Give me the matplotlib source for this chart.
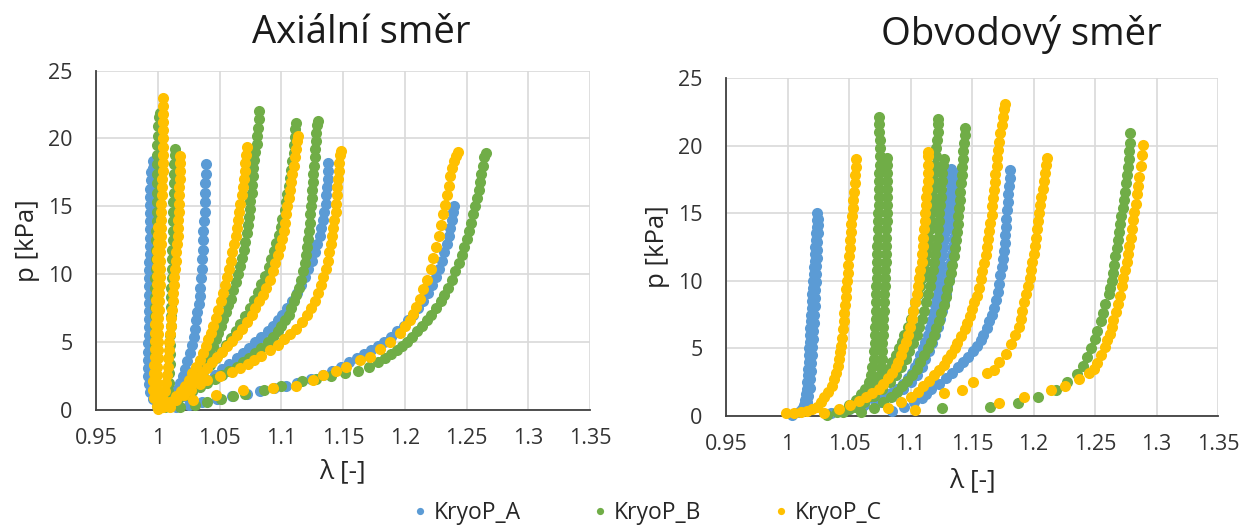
import matplotlib
matplotlib.use("Agg")
import matplotlib.pyplot as plt
from matplotlib.lines import Line2D

plt.rcParams['font.family'] = ['Open Sans', 'DejaVu Sans']

# ---------------- labels / ticks ----------------
titles = ["Axiální směr", "Obvodový směr"]
x_label = "λ [-]"
y_label = "p [kPa]"
series_names = ["KryoP_A", "KryoP_B", "KryoP_C"]
series_colors = ["#5B9BD5", "#70AD47", "#FFC000"]
x_ticks = [0.95, 1.0, 1.05, 1.1, 1.15, 1.2, 1.25, 1.3, 1.35]
x_tick_labels = ["0.95", "1", "1.05", "1.1", "1.15", "1.2", "1.25", "1.3", "1.35"]
y_ticks = [0, 5, 10, 15, 20, 25]
y_tick_labels = ["0", "5", "10", "15", "20", "25"]

# ================= Axiální směr =================
# KryoP_A
axA1a_lam = [0.999, 0.996, 0.994, 0.993, 0.9925, 0.9925, 0.9925, 0.9925, 0.9925, 0.993, 0.993, 0.993, 0.993, 0.993, 0.993, 0.993, 0.9932, 0.9932, 0.9932, 0.9935, 0.9935, 0.9935, 0.9935, 0.9938, 0.9938, 0.994, 0.994, 0.994, 0.9942, 0.9945]
axA1a_p = [0.3, 0.8, 1.3, 1.9, 2.5, 3.1, 3.7, 4.3, 4.9, 5.5, 6.1, 6.7, 7.3, 7.9, 8.5, 9.1, 9.7, 10.3, 10.9, 11.5, 12.1, 12.7, 13.3, 13.9, 14.5, 15.1, 15.7, 16.3, 16.9, 17.5]
axA1b_lam = [0.997, 0.9958, 0.9955, 0.9955, 0.9955, 0.9955, 0.9955, 0.9958, 0.9958, 0.9958, 0.996, 0.996, 0.996, 0.996, 0.996, 0.9962, 0.9962, 0.9962, 0.9962, 0.9962, 0.9962, 0.9965, 0.9965, 0.9965, 0.9965, 0.9965, 0.9965, 0.9965, 0.9965, 0.9965]
axA1b_p = [1.0, 1.6, 2.2, 2.8, 3.4, 4.0, 4.6, 5.2, 5.8, 6.4, 7.0, 7.6, 8.2, 8.8, 9.4, 10.0, 10.6, 11.2, 11.8, 12.4, 13.0, 13.6, 14.2, 14.8, 15.4, 16.0, 16.6, 17.2, 17.8, 18.3]
axA2_lam = [1.003, 1.008, 1.012, 1.015, 1.018, 1.0205, 1.022, 1.024, 1.026, 1.0275, 1.029, 1.030, 1.031, 1.032, 1.033, 1.034, 1.0345, 1.035, 1.0355, 1.036, 1.0365, 1.037, 1.037, 1.0375, 1.038, 1.038, 1.0385, 1.0385, 1.039, 1.039]
axA2_p = [0.2, 0.6, 1.0, 1.5, 2.0, 2.5, 3.0, 3.6, 4.2, 4.8, 5.4, 6.0, 6.6, 7.2, 7.8, 8.4, 9.0, 9.7, 10.4, 11.1, 11.8, 12.5, 13.2, 13.9, 14.6, 15.3, 16.0, 16.7, 17.4, 18.1]
axA3_lam = [1.008, 1.014, 1.021, 1.028, 1.034, 1.040, 1.046, 1.052, 1.058, 1.064, 1.069, 1.074, 1.079, 1.084, 1.089, 1.093, 1.097, 1.101, 1.105, 1.109, 1.113, 1.116, 1.119, 1.122, 1.1245, 1.127, 1.129, 1.131, 1.1325, 1.134, 1.135, 1.136, 1.1365, 1.137, 1.1375, 1.138, 1.138]
axA3_p = [0.3, 0.6, 1.0, 1.4, 1.8, 2.2, 2.6, 3.0, 3.4, 3.8, 4.2, 4.6, 5.0, 5.4, 5.8, 6.2, 6.6, 7.0, 7.5, 8.0, 8.6, 9.2, 9.8, 10.4, 11.0, 11.6, 12.2, 12.8, 13.4, 14.0, 14.6, 15.2, 15.8, 16.4, 17.0, 17.6, 18.2]
axA4_lam = [1.015, 1.025, 1.036, 1.048, 1.060, 1.072, 1.083, 1.094, 1.104, 1.113, 1.124, 1.134, 1.141, 1.148, 1.155, 1.161, 1.167, 1.173, 1.178, 1.183, 1.189, 1.194, 1.199, 1.203, 1.207, 1.211, 1.215, 1.219, 1.222, 1.225, 1.228, 1.230, 1.232, 1.234, 1.2355, 1.237, 1.238, 1.239, 1.2395]
axA4_p = [0.2, 0.4, 0.6, 0.8, 1.0, 1.2, 1.4, 1.6, 1.8, 2.0, 2.3, 2.6, 2.9, 3.2, 3.5, 3.8, 4.1, 4.4, 4.7, 5.0, 5.4, 5.8, 6.2, 6.6, 7.0, 7.5, 8.0, 8.6, 9.2, 9.8, 10.4, 11.0, 11.6, 12.2, 12.8, 13.4, 14.0, 14.6, 15.0]

# KryoP_B
axB1_lam = [1.001, 0.999, 0.998, 0.9975, 0.9975, 0.9975, 0.9975, 0.9975, 0.998, 0.998, 0.998, 0.998, 0.998, 0.998, 0.998, 0.9985, 0.9985, 0.9985, 0.9985, 0.9985, 0.999, 0.999, 0.999, 0.999, 0.999, 0.999, 0.9995, 0.9995, 0.9995, 1.000, 1.000, 1.001, 1.0015]
axB1_p = [0.3, 0.8, 1.4, 2.0, 2.7, 3.4, 4.1, 4.8, 5.5, 6.2, 6.9, 7.6, 8.3, 9.0, 9.7, 10.4, 11.1, 11.8, 12.5, 13.2, 13.9, 14.6, 15.3, 16.0, 16.7, 17.4, 18.1, 18.8, 19.5, 20.2, 20.9, 21.6, 21.9]
axB2_lam = [1.003, 1.006, 1.008, 1.009, 1.0095, 1.0098, 1.010, 1.010, 1.0102, 1.0104, 1.0106, 1.0108, 1.011, 1.011, 1.0112, 1.0114, 1.0116, 1.0118, 1.012, 1.012, 1.0122, 1.0124, 1.0126, 1.0128, 1.013, 1.0132, 1.0134, 1.0136, 1.0138]
axB2_p = [0.3, 0.8, 1.4, 2.0, 2.7, 3.4, 4.1, 4.8, 5.5, 6.2, 6.9, 7.6, 8.3, 9.0, 9.7, 10.4, 11.1, 11.8, 12.5, 13.2, 13.9, 14.6, 15.3, 16.0, 16.7, 17.4, 18.1, 18.8, 19.2]
axB3_lam = [1.006, 1.012, 1.017, 1.021, 1.025, 1.029, 1.033, 1.036, 1.039, 1.042, 1.045, 1.047, 1.049, 1.051, 1.053, 1.055, 1.057, 1.059, 1.061, 1.063, 1.065, 1.067, 1.068, 1.070, 1.071, 1.072, 1.073, 1.074, 1.075, 1.075, 1.076, 1.076, 1.077, 1.077, 1.078, 1.079, 1.080, 1.080, 1.081, 1.082, 1.082]
axB3_p = [0.2, 0.6, 1.0, 1.4, 1.8, 2.2, 2.7, 3.2, 3.7, 4.2, 4.7, 5.2, 5.7, 6.2, 6.7, 7.2, 7.7, 8.2, 8.8, 9.4, 10.0, 10.6, 11.2, 11.8, 12.4, 13.0, 13.6, 14.2, 14.8, 15.4, 16.0, 16.6, 17.2, 17.8, 18.4, 19.0, 19.6, 20.2, 20.8, 21.4, 22.0]
axB4_lam = [1.010, 1.015, 1.020, 1.024, 1.028, 1.032, 1.037, 1.042, 1.047, 1.051, 1.055, 1.059, 1.063, 1.067, 1.071, 1.075, 1.078, 1.081, 1.084, 1.087, 1.090, 1.092, 1.094, 1.096, 1.098, 1.100, 1.101, 1.103, 1.104, 1.105, 1.106, 1.107, 1.108, 1.109, 1.110, 1.110, 1.111, 1.1115, 1.112]
axB4_p = [0.3, 0.7, 1.1, 1.5, 1.9, 2.3, 2.8, 3.3, 3.8, 4.3, 4.8, 5.3, 5.8, 6.3, 6.9, 7.5, 8.1, 8.7, 9.3, 9.9, 10.5, 11.1, 11.7, 12.3, 12.9, 13.5, 14.1, 14.7, 15.3, 15.9, 16.5, 17.1, 17.7, 18.3, 18.9, 19.5, 20.1, 20.7, 21.1]
axB5_lam = [1.004, 1.010, 1.016, 1.022, 1.028, 1.034, 1.040, 1.046, 1.052, 1.058, 1.064, 1.069, 1.074, 1.079, 1.084, 1.089, 1.093, 1.097, 1.100, 1.103, 1.106, 1.108, 1.110, 1.112, 1.114, 1.116, 1.1175, 1.119, 1.120, 1.121, 1.122, 1.1225, 1.123, 1.1235, 1.124, 1.1245, 1.125, 1.1255, 1.126, 1.1265, 1.127, 1.1275, 1.128, 1.1285, 1.129, 1.1295]
axB5_p = [0.2, 0.5, 0.8, 1.1, 1.4, 1.7, 2.0, 2.3, 2.6, 2.9, 3.2, 3.5, 3.8, 4.2, 4.6, 5.0, 5.4, 5.8, 6.2, 6.6, 7.0, 7.5, 8.0, 8.5, 9.0, 9.6, 10.2, 10.8, 11.4, 12.0, 12.6, 13.2, 13.8, 14.4, 15.0, 15.6, 16.2, 16.8, 17.4, 18.0, 18.6, 19.2, 19.8, 20.4, 21.0, 21.3]
axB6_lam = [1.018, 1.030, 1.040, 1.051, 1.061, 1.071, 1.086, 1.100, 1.117, 1.128, 1.140, 1.152, 1.162, 1.171, 1.178, 1.184, 1.189, 1.194, 1.198, 1.202, 1.206, 1.210, 1.214, 1.218, 1.221, 1.225, 1.229, 1.232, 1.235, 1.238, 1.241, 1.244, 1.246, 1.248, 1.250, 1.252, 1.254, 1.2555, 1.257, 1.2585, 1.260, 1.261, 1.262, 1.263, 1.2645, 1.2655]
axB6_p = [0.2, 0.4, 0.6, 0.8, 1.0, 1.2, 1.5, 1.8, 2.1, 2.3, 2.5, 2.7, 2.9, 3.2, 3.5, 3.8, 4.1, 4.4, 4.7, 5.0, 5.4, 5.8, 6.2, 6.6, 7.0, 7.5, 8.0, 8.5, 9.0, 9.6, 10.2, 10.8, 11.4, 12.0, 12.6, 13.2, 13.8, 14.4, 15.0, 15.6, 16.2, 16.8, 17.4, 18.0, 18.6, 18.9]

# KryoP_C
axC1a_lam = [1.000, 1.000, 0.999, 0.999, 0.999, 0.9995, 0.9995, 1.000, 1.000, 1.000, 1.000, 1.0005, 1.0005, 1.001, 1.001, 1.001, 1.0015, 1.0015, 1.002, 1.002, 1.002, 1.0025, 1.0025, 1.003, 1.003, 1.003, 1.003, 1.0035, 1.0035, 1.0035, 1.004, 1.004, 1.004, 1.004, 1.004, 1.004, 1.004, 1.0042, 1.0042, 1.0042]
axC1a_p = [0.1, 0.5, 1.0, 1.5, 2.0, 2.6, 3.2, 3.8, 4.4, 5.0, 5.6, 6.2, 6.8, 7.4, 8.0, 8.6, 9.2, 9.8, 10.4, 11.0, 11.6, 12.2, 12.8, 13.4, 14.0, 14.6, 15.2, 15.8, 16.4, 17.0, 17.6, 18.2, 18.8, 19.4, 20.0, 20.6, 21.2, 21.8, 22.4, 23.0]
axC1b_lam = [0.999, 0.997, 0.9965, 0.9965, 0.997, 0.997, 0.9975, 0.9975, 0.998, 0.998, 0.998, 0.9985, 0.9985, 0.9985, 0.999, 0.999, 0.999, 0.9995, 0.9995, 0.9995, 1.000, 1.000, 1.0005]
axC1b_p = [0.3, 0.9, 1.5, 2.1, 2.7, 3.3, 3.9, 4.5, 5.1, 5.7, 6.3, 6.9, 7.5, 8.1, 8.7, 9.3, 9.9, 10.5, 11.1, 11.7, 12.3, 12.9, 13.5]
axC2_lam = [1.002, 1.004, 1.006, 1.007, 1.0075, 1.008, 1.0085, 1.009, 1.0095, 1.010, 1.0105, 1.011, 1.0115, 1.012, 1.0125, 1.013, 1.0135, 1.014, 1.0145, 1.015, 1.0155, 1.016, 1.0163, 1.0166, 1.0169, 1.0172, 1.0174, 1.0176, 1.0178, 1.018, 1.018, 1.018]
axC2_p = [0.3, 0.8, 1.4, 2.0, 2.6, 3.2, 3.8, 4.4, 5.0, 5.6, 6.2, 6.8, 7.4, 8.0, 8.6, 9.2, 9.8, 10.4, 11.0, 11.6, 12.2, 12.8, 13.4, 14.0, 14.6, 15.2, 15.8, 16.4, 17.0, 17.6, 18.2, 18.7]
axC3_lam = [1.004, 1.010, 1.015, 1.019, 1.022, 1.025, 1.028, 1.031, 1.034, 1.037, 1.039, 1.041, 1.043, 1.045, 1.047, 1.049, 1.051, 1.053, 1.0545, 1.056, 1.0575, 1.059, 1.060, 1.0615, 1.063, 1.064, 1.065, 1.066, 1.067, 1.068, 1.069, 1.070, 1.0705, 1.071, 1.0715, 1.072]
axC3_p = [0.2, 0.6, 1.0, 1.4, 1.8, 2.2, 2.7, 3.2, 3.7, 4.2, 4.7, 5.2, 5.7, 6.2, 6.8, 7.4, 8.0, 8.6, 9.2, 9.8, 10.4, 11.0, 11.6, 12.2, 12.8, 13.4, 14.0, 14.6, 15.2, 15.8, 16.4, 17.0, 17.6, 18.2, 18.8, 19.4]
axC4_lam = [1.007, 1.013, 1.018, 1.023, 1.028, 1.032, 1.036, 1.040, 1.044, 1.048, 1.052, 1.056, 1.060, 1.064, 1.068, 1.072, 1.076, 1.079, 1.082, 1.085, 1.088, 1.091, 1.093, 1.095, 1.097, 1.099, 1.1005, 1.102, 1.103, 1.104, 1.105, 1.106, 1.107, 1.108, 1.109, 1.110, 1.111, 1.112, 1.113, 1.1135]
axC4_p = [0.3, 0.7, 1.1, 1.5, 1.9, 2.3, 2.7, 3.1, 3.5, 3.9, 4.3, 4.7, 5.1, 5.5, 6.0, 6.5, 7.0, 7.5, 8.0, 8.5, 9.0, 9.6, 10.2, 10.8, 11.4, 12.0, 12.6, 13.2, 13.8, 14.4, 15.0, 15.6, 16.2, 16.8, 17.4, 18.0, 18.6, 19.2, 19.8, 20.2]
axC5_lam = [1.008, 1.015, 1.021, 1.027, 1.034, 1.040, 1.050, 1.060, 1.067, 1.073, 1.078, 1.084, 1.091, 1.097, 1.102, 1.107, 1.112, 1.117, 1.121, 1.124, 1.127, 1.130, 1.132, 1.134, 1.136, 1.1375, 1.139, 1.140, 1.141, 1.142, 1.143, 1.144, 1.1445, 1.145, 1.1455, 1.146, 1.1465, 1.147, 1.1475, 1.148]
axC5_p = [0.3, 0.7, 1.1, 1.5, 1.9, 2.2, 2.5, 2.8, 3.1, 3.4, 3.7, 4.0, 4.4, 4.8, 5.2, 5.6, 6.0, 6.5, 7.0, 7.5, 8.0, 8.6, 9.2, 9.8, 10.4, 11.0, 11.6, 12.2, 12.8, 13.4, 14.0, 14.6, 15.2, 15.8, 16.4, 17.0, 17.6, 18.2, 18.8, 19.1]
axC6_lam = [1.0097, 1.0286, 1.0475, 1.069, 1.0933, 1.1122, 1.1257, 1.1338, 1.1446, 1.1527, 1.1634, 1.1715, 1.1796, 1.1877, 1.1958, 1.2005, 1.2039, 1.207, 1.2093, 1.212, 1.215, 1.218, 1.221, 1.223, 1.2255, 1.228, 1.2295, 1.231, 1.2325, 1.234, 1.2355, 1.237, 1.2385, 1.240, 1.2415, 1.243]
axC6_p = [0.24, 0.74, 1.1, 1.5, 1.6, 1.8, 2.2, 2.6, 2.9, 3.2, 3.7, 3.9, 4.5, 5.0, 5.7, 6.2, 6.6, 7.1, 7.6, 8.2, 8.9, 9.6, 10.4, 11.2, 12.0, 12.8, 13.6, 14.4, 15.1, 15.8, 16.5, 17.2, 17.8, 18.3, 18.7, 19.0]

# ================= Obvodový směr =================
# KryoP_A
obA1a_lam = [1.004, 1.009, 1.012, 1.0135, 1.0145, 1.015, 1.0155, 1.016, 1.0165, 1.017, 1.0172, 1.0175, 1.0178, 1.018, 1.0183, 1.0186, 1.019, 1.0193, 1.0196, 1.020, 1.0203, 1.0206, 1.021, 1.0213, 1.0216, 1.022, 1.0223, 1.0226, 1.023, 1.0233, 1.0236, 1.024, 1.0243]
obA1a_p = [0.1, 0.3, 0.5, 0.8, 1.2, 1.6, 2.0, 2.5, 3.0, 3.5, 4.0, 4.5, 5.0, 5.5, 6.0, 6.5, 7.0, 7.5, 8.0, 8.5, 9.0, 9.5, 10.0, 10.5, 11.0, 11.5, 12.0, 12.5, 13.0, 13.5, 14.0, 14.5, 15.0]
obA1b_lam = [1.0155, 1.017, 1.018, 1.0185, 1.019, 1.0195, 1.020, 1.0203, 1.0206, 1.021, 1.0213, 1.0216, 1.022, 1.0223, 1.0226, 1.023, 1.0232, 1.0235, 1.0238, 1.024, 1.0243, 1.0246, 1.025, 1.0252]
obA1b_p = [1.0, 1.5, 2.1, 2.7, 3.3, 3.9, 4.5, 5.1, 5.7, 6.3, 6.9, 7.5, 8.1, 8.7, 9.3, 9.9, 10.5, 11.1, 11.7, 12.3, 12.9, 13.5, 14.1, 14.6]
obA2a_lam = [1.035, 1.050, 1.062, 1.071, 1.078, 1.084, 1.089, 1.094, 1.098, 1.101, 1.104, 1.106, 1.108, 1.110, 1.112, 1.114, 1.1155, 1.117, 1.1185, 1.120, 1.121, 1.122, 1.123, 1.124, 1.125, 1.126, 1.1265, 1.127, 1.128, 1.1285, 1.129, 1.130, 1.1305, 1.131, 1.132, 1.1325, 1.133]
obA2a_p = [0.2, 0.5, 0.8, 1.1, 1.4, 1.7, 2.0, 2.4, 2.8, 3.2, 3.6, 4.0, 4.5, 5.0, 5.5, 6.0, 6.5, 7.0, 7.6, 8.2, 8.8, 9.4, 10.0, 10.6, 11.2, 11.8, 12.4, 13.0, 13.6, 14.2, 14.8, 15.4, 16.0, 16.6, 17.2, 17.8, 18.3]
obA2b_lam = [1.060, 1.076, 1.086, 1.094, 1.100, 1.105, 1.109, 1.112, 1.115, 1.1175, 1.120, 1.122, 1.124, 1.1255, 1.127, 1.1285, 1.130, 1.131, 1.132, 1.133, 1.134, 1.1345, 1.135, 1.1355, 1.136, 1.1365, 1.137, 1.1375, 1.138, 1.1385, 1.139]
obA2b_p = [0.5, 1.0, 1.5, 2.0, 2.5, 3.0, 3.6, 4.2, 4.8, 5.4, 6.0, 6.6, 7.2, 7.8, 8.4, 9.0, 9.6, 10.2, 10.8, 11.4, 12.0, 12.6, 13.2, 13.8, 14.4, 15.0, 15.6, 16.2, 16.8, 17.4, 18.0]
obA3_lam = [1.085, 1.095, 1.103, 1.109, 1.113, 1.117, 1.123, 1.129, 1.134, 1.139, 1.143, 1.147, 1.151, 1.154, 1.157, 1.159, 1.162, 1.164, 1.166, 1.168, 1.1695, 1.171, 1.172, 1.173, 1.174, 1.175, 1.176, 1.1765, 1.177, 1.1775, 1.178, 1.1785, 1.179, 1.1795, 1.180, 1.1805, 1.181]
obA3_p = [0.4, 0.7, 1.0, 1.3, 1.6, 2.0, 2.4, 2.8, 3.2, 3.6, 4.0, 4.4, 4.8, 5.2, 5.6, 6.0, 6.5, 7.0, 7.5, 8.0, 8.6, 9.2, 9.8, 10.4, 11.0, 11.6, 12.2, 12.8, 13.4, 14.0, 14.6, 15.2, 15.8, 16.4, 17.0, 17.6, 18.2]

# KryoP_B
obB1a_lam = [1.032, 1.042, 1.050, 1.056, 1.060, 1.063, 1.066, 1.068, 1.069, 1.070, 1.0705, 1.071, 1.0712, 1.0714, 1.0716, 1.0718, 1.072, 1.072, 1.0722, 1.0724, 1.0726, 1.0728, 1.073, 1.073, 1.0732, 1.0734, 1.0736, 1.0738, 1.074, 1.074, 1.0742, 1.0744, 1.0746, 1.0748, 1.075, 1.075, 1.075, 1.0745, 1.074, 1.074]
obB1a_p = [0.1, 0.4, 0.8, 1.2, 1.6, 2.0, 2.5, 3.0, 3.6, 4.2, 4.8, 5.4, 6.0, 6.6, 7.2, 7.8, 8.4, 9.0, 9.6, 10.2, 10.8, 11.4, 12.0, 12.6, 13.2, 13.8, 14.4, 15.0, 15.6, 16.2, 16.8, 17.4, 18.0, 18.6, 19.2, 19.8, 20.4, 21.0, 21.6, 22.1]
obB1b_lam = [1.045, 1.055, 1.062, 1.067, 1.071, 1.0735, 1.075, 1.076, 1.0765, 1.077, 1.0772, 1.0775, 1.0778, 1.078, 1.0782, 1.0785, 1.0788, 1.079, 1.0792, 1.0795, 1.0797, 1.080, 1.080, 1.0802, 1.0804, 1.0806, 1.0808, 1.081, 1.081, 1.081, 1.081, 1.081, 1.0808, 1.0806]
obB1b_p = [0.3, 0.7, 1.1, 1.5, 2.0, 2.5, 3.0, 3.6, 4.2, 4.8, 5.4, 6.0, 6.6, 7.2, 7.8, 8.4, 9.0, 9.6, 10.2, 10.8, 11.4, 12.0, 12.6, 13.2, 13.8, 14.4, 15.0, 15.6, 16.2, 16.8, 17.4, 18.0, 18.6, 19.1]
obB2_lam = [1.040, 1.050, 1.057, 1.063, 1.068, 1.072, 1.076, 1.079, 1.082, 1.085, 1.088, 1.091, 1.093, 1.095, 1.098, 1.100, 1.102, 1.104, 1.106, 1.108, 1.1095, 1.111, 1.112, 1.113, 1.114, 1.115, 1.116, 1.1165, 1.117, 1.118, 1.118, 1.1185, 1.119, 1.1195, 1.120, 1.1205, 1.121, 1.1215, 1.122, 1.1225, 1.1227]
obB2_p = [0.3, 0.7, 1.1, 1.5, 1.9, 2.3, 2.7, 3.1, 3.5, 4.0, 4.5, 5.0, 5.5, 6.0, 6.6, 7.2, 7.8, 8.4, 9.0, 9.6, 10.2, 10.8, 11.4, 12.0, 12.6, 13.2, 13.8, 14.4, 15.0, 15.6, 16.2, 16.8, 17.4, 18.0, 18.6, 19.2, 19.8, 20.4, 21.0, 21.6, 22.0]
obB3_lam = [1.050, 1.062, 1.070, 1.077, 1.083, 1.088, 1.092, 1.096, 1.099, 1.102, 1.105, 1.107, 1.109, 1.111, 1.113, 1.1145, 1.116, 1.117, 1.118, 1.119, 1.120, 1.121, 1.122, 1.1225, 1.123, 1.1235, 1.124, 1.1245, 1.125, 1.1255, 1.126, 1.1265, 1.127]
obB3_p = [0.5, 1.0, 1.5, 2.0, 2.5, 3.0, 3.6, 4.2, 4.8, 5.4, 6.0, 6.6, 7.2, 7.8, 8.4, 9.0, 9.6, 10.2, 10.8, 11.4, 12.0, 12.6, 13.2, 13.8, 14.4, 15.0, 15.6, 16.2, 16.8, 17.4, 18.0, 18.6, 19.0]
obB4_lam = [1.060, 1.070, 1.078, 1.084, 1.089, 1.093, 1.097, 1.101, 1.105, 1.108, 1.111, 1.114, 1.117, 1.119, 1.121, 1.123, 1.125, 1.127, 1.1285, 1.130, 1.1315, 1.133, 1.134, 1.135, 1.136, 1.137, 1.138, 1.1385, 1.139, 1.1395, 1.140, 1.1405, 1.141, 1.1415, 1.142, 1.1425, 1.143, 1.1435, 1.144, 1.1444]
obB4_p = [0.3, 0.6, 1.0, 1.4, 1.8, 2.2, 2.6, 3.0, 3.5, 4.0, 4.5, 5.0, 5.5, 6.0, 6.5, 7.0, 7.6, 8.2, 8.8, 9.4, 10.0, 10.6, 11.2, 11.8, 12.4, 13.0, 13.6, 14.2, 14.8, 15.4, 16.0, 16.6, 17.2, 17.8, 18.4, 19.0, 19.6, 20.2, 20.8, 21.3]
obB5_lam = [1.1254, 1.1646, 1.1877, 1.204, 1.218, 1.227, 1.2356, 1.240, 1.2437, 1.247, 1.250, 1.252, 1.2545, 1.2565, 1.2585, 1.261, 1.2625, 1.2639, 1.2648, 1.2657, 1.2666, 1.2675, 1.2685, 1.2695, 1.2705, 1.2715, 1.2725, 1.2735, 1.2745, 1.2752, 1.276, 1.2767, 1.2774, 1.278, 1.2785, 1.2788]
obB5_p = [0.6, 0.7, 0.94, 1.4, 1.9, 2.5, 3.1, 3.7, 4.4, 5.0, 5.7, 6.3, 7.0, 7.6, 8.3, 9.0, 9.5, 10.0, 10.6, 11.2, 11.8, 12.4, 13.0, 13.6, 14.2, 14.8, 15.4, 16.0, 16.6, 17.2, 17.8, 18.4, 19.0, 19.6, 20.2, 20.9]

# KryoP_C
obC1_lam = [0.999, 1.005, 1.011, 1.016, 1.020, 1.024, 1.027, 1.030, 1.033, 1.036, 1.038, 1.0395, 1.041, 1.042, 1.0428, 1.0435, 1.0442, 1.045, 1.0456, 1.0462, 1.0467, 1.0472, 1.0478, 1.0483, 1.0488, 1.0494, 1.050, 1.0505, 1.051, 1.0515, 1.052, 1.0525, 1.053, 1.0535, 1.054, 1.0545, 1.055, 1.0553, 1.0555]
obC1_p = [0.2, 0.25, 0.3, 0.4, 0.5, 0.7, 1.0, 1.4, 1.8, 2.2, 2.7, 3.2, 3.7, 4.2, 4.7, 5.2, 5.8, 6.4, 7.0, 7.6, 8.2, 8.8, 9.4, 10.0, 10.6, 11.2, 11.8, 12.4, 13.0, 13.6, 14.2, 14.8, 15.4, 16.0, 16.6, 17.2, 17.8, 18.4, 19.0]
obC2_lam = [1.030, 1.042, 1.051, 1.058, 1.064, 1.069, 1.074, 1.078, 1.082, 1.085, 1.088, 1.090, 1.092, 1.094, 1.096, 1.098, 1.0995, 1.101, 1.102, 1.1035, 1.105, 1.106, 1.107, 1.108, 1.109, 1.1095, 1.110, 1.1105, 1.111, 1.1115, 1.112, 1.1125, 1.113, 1.1135, 1.114, 1.114, 1.1145, 1.1145, 1.1145]
obC2_p = [0.2, 0.5, 0.8, 1.1, 1.4, 1.7, 2.0, 2.4, 2.8, 3.2, 3.6, 4.0, 4.5, 5.0, 5.5, 6.0, 6.6, 7.2, 7.8, 8.4, 9.0, 9.6, 10.2, 10.8, 11.4, 12.0, 12.6, 13.2, 13.8, 14.4, 15.0, 15.6, 16.2, 16.8, 17.4, 18.0, 18.6, 19.2, 19.5]
obC3_lam = [1.082, 1.092, 1.100, 1.106, 1.110, 1.115, 1.119, 1.123, 1.127, 1.130, 1.133, 1.136, 1.138, 1.141, 1.144, 1.146, 1.148, 1.150, 1.152, 1.154, 1.156, 1.157, 1.1585, 1.160, 1.161, 1.162, 1.163, 1.164, 1.165, 1.166, 1.1665, 1.167, 1.168, 1.1685, 1.169, 1.170, 1.1705, 1.171, 1.172, 1.173, 1.174, 1.175, 1.176, 1.177]
obC3_p = [0.6, 1.0, 1.4, 1.8, 2.2, 2.6, 3.0, 3.4, 3.8, 4.2, 4.6, 5.0, 5.4, 5.9, 6.4, 6.9, 7.4, 7.9, 8.4, 8.9, 9.5, 10.1, 10.7, 11.3, 11.9, 12.5, 13.1, 13.7, 14.3, 14.9, 15.5, 16.1, 16.7, 17.3, 17.9, 18.5, 19.1, 19.7, 20.3, 20.9, 21.5, 22.1, 22.7, 23.1]
obC4_lam = [1.104, 1.127, 1.1416, 1.1511, 1.1619, 1.1675, 1.172, 1.178, 1.182, 1.185, 1.188, 1.1895, 1.191, 1.1925, 1.194, 1.1955, 1.197, 1.198, 1.199, 1.200, 1.201, 1.202, 1.203, 1.204, 1.2048, 1.2055, 1.2065, 1.2075, 1.2083, 1.209, 1.2098, 1.2107]
obC4_p = [0.44, 1.7, 1.9, 2.5, 3.15, 3.4, 4.0, 4.6, 5.3, 6.0, 6.6, 7.2, 7.8, 8.4, 9.0, 9.6, 10.2, 10.8, 11.4, 12.0, 12.6, 13.2, 13.8, 14.4, 15.0, 15.6, 16.2, 16.8, 17.4, 18.0, 18.6, 19.06]
obC5_lam = [1.172, 1.192, 1.214, 1.226, 1.237, 1.245, 1.249, 1.252, 1.255, 1.258, 1.260, 1.262, 1.2635, 1.265, 1.267, 1.2685, 1.270, 1.272, 1.273, 1.2745, 1.276, 1.277, 1.278, 1.279, 1.280, 1.281, 1.282, 1.283, 1.284, 1.285, 1.286, 1.287, 1.288, 1.2888]
obC5_p = [0.94, 1.4, 1.9, 2.2, 2.7, 3.2, 3.5, 3.9, 4.5, 5.1, 5.6, 6.1, 6.6, 7.1, 7.7, 8.3, 8.9, 9.6, 10.2, 10.8, 11.4, 12.0, 12.6, 13.2, 13.8, 14.5, 15.1, 15.7, 16.4, 17.0, 17.7, 18.5, 19.3, 20.05]

axial_curves = [
    [(axA1a_lam, axA1a_p), (axA1b_lam, axA1b_p), (axA2_lam, axA2_p), (axA3_lam, axA3_p), (axA4_lam, axA4_p)],
    [(axB1_lam, axB1_p), (axB2_lam, axB2_p), (axB3_lam, axB3_p), (axB4_lam, axB4_p), (axB5_lam, axB5_p), (axB6_lam, axB6_p)],
    [(axC1a_lam, axC1a_p), (axC1b_lam, axC1b_p), (axC2_lam, axC2_p), (axC3_lam, axC3_p), (axC4_lam, axC4_p), (axC5_lam, axC5_p), (axC6_lam, axC6_p)],
]
circ_curves = [
    [(obA1a_lam, obA1a_p), (obA1b_lam, obA1b_p), (obA2a_lam, obA2a_p), (obA2b_lam, obA2b_p), (obA3_lam, obA3_p)],
    [(obB1a_lam, obB1a_p), (obB1b_lam, obB1b_p), (obB2_lam, obB2_p), (obB3_lam, obB3_p), (obB4_lam, obB4_p), (obB5_lam, obB5_p)],
    [(obC1_lam, obC1_p), (obC2_lam, obC2_p), (obC3_lam, obC3_p), (obC4_lam, obC4_p), (obC5_lam, obC5_p)],
]

# ---------------- figure ----------------
W, H = 1244, 525
fig = plt.figure(figsize=(W / 100, H / 100), dpi=100)
ax1 = fig.add_axes([96 / W, 1 - 410 / H, 494 / W, 339.5 / H])
ax2 = fig.add_axes([726 / W, 1 - 416 / H, 492 / W, 338 / H])

text_col = "#262626"
tick_col = "#333333"
DOT = 64

def style(ax):
    ax.set_xlim(x_ticks[0], x_ticks[-1])
    ax.set_ylim(y_ticks[0], y_ticks[-1])
    ax.set_xticks(x_ticks)
    ax.set_xticklabels(x_tick_labels)
    ax.set_yticks(y_ticks)
    ax.set_yticklabels(y_tick_labels)
    ax.grid(True, color="#D9D9D9", linewidth=1.2)
    ax.set_axisbelow(True)
    for s in ["top", "right"]:
        ax.spines[s].set_visible(False)
    for s in ["left", "bottom"]:
        ax.spines[s].set_color("#404040")
        ax.spines[s].set_linewidth(1.3)
    ax.tick_params(axis="both", length=0, labelsize=15.5, colors=tick_col)
    ax.tick_params(axis="y", pad=17)
    ax.tick_params(axis="x", pad=13)

for ax, curves in ((ax1, axial_curves), (ax2, circ_curves)):
    style(ax)
    for color, series in zip(series_colors, curves):
        for lam, p in series:
            ax.scatter(lam, p, s=DOT, color=color, linewidths=0, zorder=3, clip_on=False)

# titles
fig.text(361 / W, 1 - 43 / H, titles[0], ha="center", va="baseline", fontsize=27.5, color="#1a1a1a")
fig.text(1021 / W, 1 - 45 / H, titles[1], ha="center", va="baseline", fontsize=27.5, color="#1a1a1a")

# axis labels
fig.text(342 / W, 1 - 472 / H, x_label, ha="center", va="center", fontsize=19, color=text_col)
fig.text(972 / W, 1 - 481 / H, x_label, ha="center", va="center", fontsize=19, color=text_col)
fig.text(27 / W, 1 - 241 / H, y_label, ha="center", va="center", rotation=90, fontsize=18.5, color=text_col)
fig.text(658 / W, 1 - 247 / H, y_label, ha="center", va="center", rotation=90, fontsize=18.5, color=text_col)

# legend
handles = [Line2D([], [], linestyle="none", marker="o", markersize=5.2, markerfacecolor=c,
                  markeredgewidth=0) for c in series_colors]
fig.legend(handles, series_names, loc="center", bbox_to_anchor=(648 / W, 1 - 513 / H),
           ncol=3, frameon=False, fontsize=16.5, handlelength=0.5, handletextpad=0.35,
           columnspacing=3.2, labelcolor=text_col)

fig.savefig("out.png", dpi=100)
